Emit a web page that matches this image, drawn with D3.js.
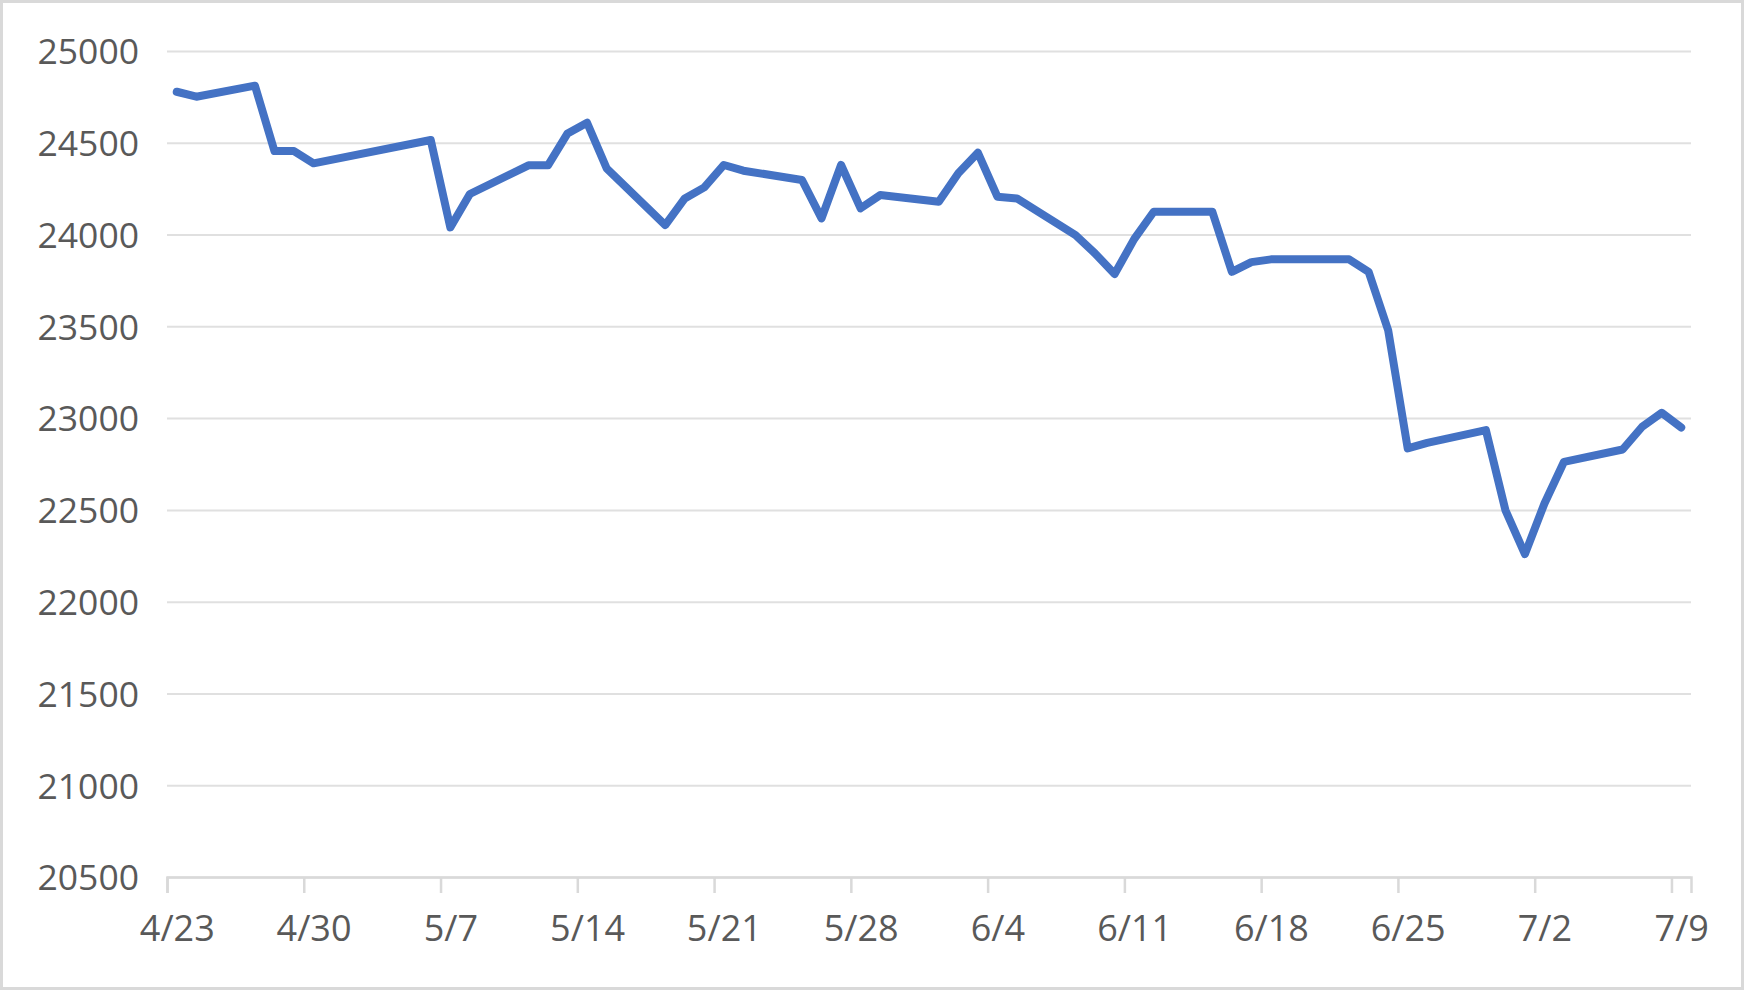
<!DOCTYPE html>
<html>
<head>
<meta charset="utf-8">
<script src="https://cdn.jsdelivr.net/npm/d3@7"></script>
<style>
  html, body { margin: 0; padding: 0; background: #fff; }
  svg text { font-family: "Open Sans", "Noto Sans", sans-serif; fill: #595959; }
</style>
</head>
<body>
<div id="chart"></div>
<script>
// trading days and closing values
const dates = [
  "2020-04-23", "2020-04-24", "2020-04-27", "2020-04-28", "2020-04-29", "2020-04-30",
  "2020-05-06", "2020-05-07", "2020-05-08", "2020-05-11", "2020-05-12", "2020-05-13",
  "2020-05-14", "2020-05-15", "2020-05-18", "2020-05-19", "2020-05-20", "2020-05-21",
  "2020-05-22", "2020-05-25", "2020-05-26", "2020-05-27", "2020-05-28", "2020-05-29",
  "2020-06-01", "2020-06-02", "2020-06-03", "2020-06-04", "2020-06-05", "2020-06-08",
  "2020-06-09", "2020-06-10", "2020-06-11", "2020-06-12", "2020-06-15", "2020-06-16",
  "2020-06-17", "2020-06-18", "2020-06-19", "2020-06-22", "2020-06-23", "2020-06-24",
  "2020-06-25", "2020-06-26", "2020-06-29", "2020-06-30", "2020-07-01", "2020-07-02",
  "2020-07-03", "2020-07-06", "2020-07-07", "2020-07-08", "2020-07-09"
];
const values = [
  24778, 24751, 24811, 24455, 24455, 24388,
  24515, 24039, 24221, 24377, 24377, 24551,
  24609, 24361, 24052, 24197, 24257, 24379,
  24348, 24297, 24088, 24379, 24143, 24215,
  24179, 24334, 24446, 24206, 24197, 23997,
  23897, 23785, 23975, 24124, 24124, 23797,
  23850, 23865, 23865, 23865, 23797, 23479,
  22835, 22865, 22935, 22499, 22259, 22535,
  22762, 22829, 22953, 23029, 22949
];
const tickLabels = ["4/23", "4/30", "5/7", "5/14", "5/21", "5/28", "6/4", "6/11", "6/18", "6/25", "7/2", "7/9"];
const yTicks = [20500, 21000, 21500, 22000, 22500, 23000, 23500, 24000, 24500, 25000];

let W = 1744, H = 990;
let margin = { top: 51, right: 53, bottom: 113, left: 167 },
    width = W - margin.left - margin.right,
    height = H - margin.top - margin.bottom;

const parse = d3.utcParse("%Y-%m-%d");
const halfDay = 12 * 3600 * 1000;
const data = dates.map((d, i) => ({ date: parse(d), value: values[i] }));
const tickDates = tickLabels.map(s => {
  const [m, d] = s.split("/").map(Number);
  return new Date(Date.UTC(2020, m - 1, d));
});

const x = d3.scaleUtc()
  .domain([parse("2020-04-23"), parse("2020-07-10")])
  .range([0, width]);
const y = d3.scaleLinear()
  .domain([20500, 25000])
  .range([height, 0]);
const dayW = x(parse("2020-04-24")) - x(parse("2020-04-23"));

const svg = d3.select("#chart").append("svg")
  .attr("width", W).attr("height", H);

// chart area border
svg.append("rect")
  .attr("x", 1.5).attr("y", 1.5)
  .attr("width", W - 3).attr("height", H - 3)
  .attr("fill", "#fff").attr("stroke", "#d9d9d9").attr("stroke-width", 3);

const g = svg.append("g")
  .attr("transform", "translate(" + margin.left + "," + margin.top + ")");

// gridlines
g.append("g")
  .call(d3.axisLeft(y).tickValues(yTicks).tickSize(-width).tickFormat(""))
  .call(a => a.select(".domain").remove())
  .call(a => a.selectAll("line").attr("stroke", "#e0e0e0").attr("stroke-width", 2));

// y labels
g.append("g")
  .call(d3.axisLeft(y).tickValues(yTicks).tickSize(0).tickPadding(28).tickFormat(d3.format("d")))
  .call(a => a.select(".domain").remove())
  .call(a => a.selectAll("text")
    .style("font-size", "35.5px").attr("fill", "#595959").attr("dy", "0.36em"));

// x axis
g.append("g")
  .attr("transform", "translate(0," + height + ")")
  .call(d3.axisBottom(x).tickValues(tickDates).tickSize(16).tickPadding(22)
    .tickFormat((d, i) => tickLabels[i]))
  .call(a => a.select(".domain").attr("stroke", "#d9d9d9").attr("stroke-width", 2.5))
  .call(a => a.selectAll("line").attr("stroke", "#d9d9d9").attr("stroke-width", 2.5))
  .call(a => a.selectAll("text")
    .attr("x", dayW / 2)
    .style("font-size", "36px").attr("fill", "#595959"));

// the line
const line = d3.line()
  .x(d => x(new Date(d.date.getTime() + halfDay)))
  .y(d => y(d.value));

g.append("path")
  .datum(data)
  .attr("fill", "none")
  .attr("stroke", "#4472c4")
  .attr("stroke-width", 8)
  .attr("stroke-linejoin", "round")
  .attr("stroke-linecap", "round")
  .attr("d", line);
</script>
</body>
</html>
